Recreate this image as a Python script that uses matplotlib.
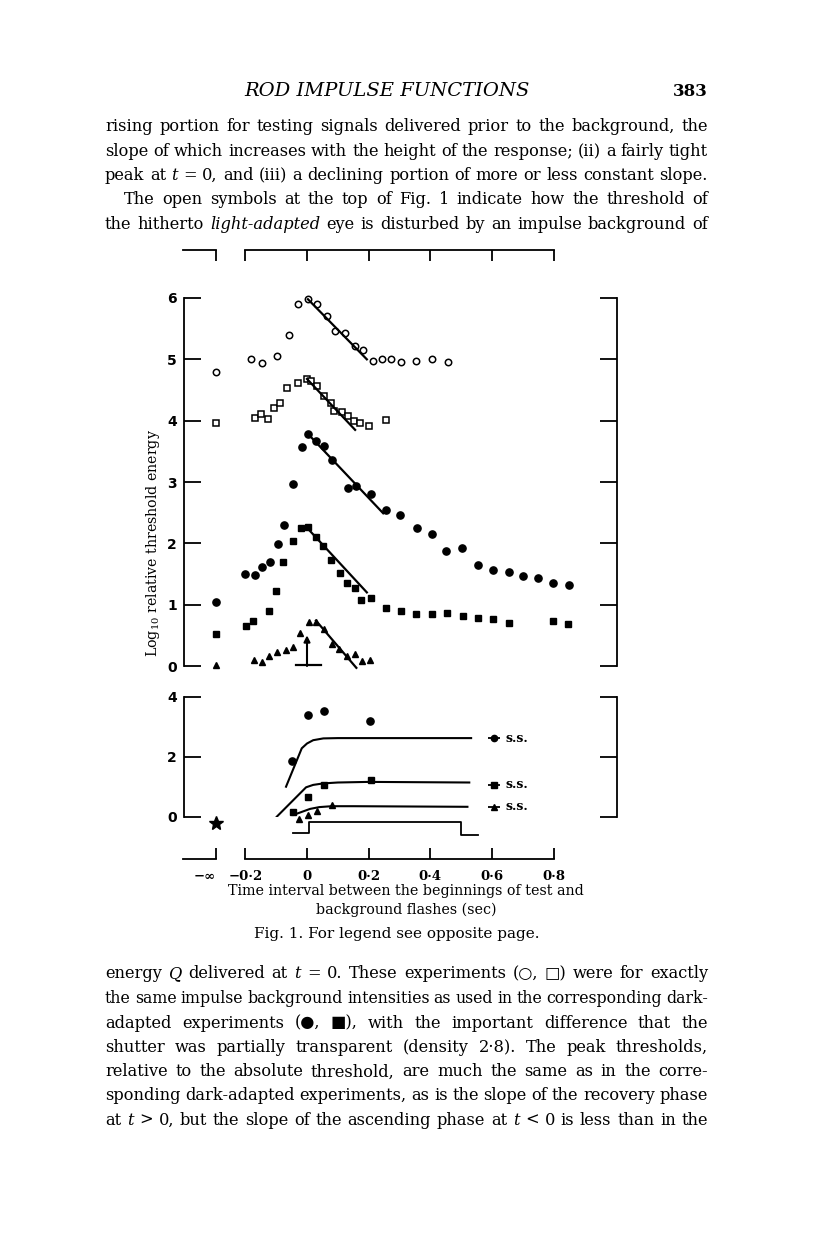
import matplotlib.pyplot as plt

W, H, DPI = 816, 1258, 100
SERIF = ['DejaVu Serif', 'DejaVu Sans']

# ---- data (t in sec, log10 relative threshold) ----
# upper panel
oc_t = [-0.182, -0.145, -0.098, -0.059, -0.029, 0.003, 0.031, 0.065, 0.092, 0.124,
        0.156, 0.183, 0.213, 0.242, 0.273, 0.304, 0.354, 0.406, 0.456]
oc_y = [5.01, 4.94, 5.06, 5.40, 5.91, 5.98, 5.90, 5.71, 5.47, 5.43,
        5.21, 5.16, 4.98, 5.01, 5.00, 4.95, 4.98, 5.01, 4.96]
oc_inf = 4.80
oc_fit_t = [0.003, 0.194]
oc_fit_y = [5.98, 5.00]

os_t = [-0.170, -0.150, -0.127, -0.108, -0.089, -0.066, -0.029, -0.001, 0.013, 0.032,
        0.054, 0.077, 0.089, 0.113, 0.132, 0.152, 0.172, 0.200, 0.255]
os_y = [4.04, 4.11, 4.03, 4.20, 4.28, 4.53, 4.61, 4.68, 4.64, 4.56,
        4.41, 4.28, 4.16, 4.14, 4.08, 4.00, 3.96, 3.92, 4.01]
os_inf = 3.96
os_fit_t = [0.0, 0.156]
os_fit_y = [4.68, 3.85]

fc_t = [-0.200, -0.170, -0.145, -0.121, -0.094, -0.073, -0.046, -0.017, 0.004, 0.029,
        0.055, 0.082, 0.132, 0.158, 0.206, 0.255, 0.303, 0.355, 0.406, 0.452,
        0.502, 0.553, 0.602, 0.655, 0.699, 0.748, 0.798, 0.849]
fc_y = [1.50, 1.49, 1.61, 1.70, 1.99, 2.30, 2.96, 3.57, 3.78, 3.67,
        3.59, 3.36, 2.91, 2.93, 2.80, 2.55, 2.47, 2.25, 2.15, 1.87,
        1.92, 1.65, 1.56, 1.53, 1.46, 1.43, 1.35, 1.32]
fc_inf = 1.04
fc_fit_t = [0.004, 0.247]
fc_fit_y = [3.78, 2.49]

fs_t = [-0.199, -0.175, -0.124, -0.099, -0.077, -0.045, -0.020, 0.004, 0.029, 0.053,
        0.078, 0.106, 0.131, 0.155, 0.176, 0.206, 0.255, 0.304, 0.353, 0.404,
        0.454, 0.505, 0.555, 0.602, 0.655, 0.798, 0.846]
fs_y = [0.65, 0.74, 0.89, 1.22, 1.70, 2.03, 2.25, 2.26, 2.10, 1.96,
        1.73, 1.51, 1.36, 1.27, 1.08, 1.11, 0.95, 0.89, 0.85, 0.85,
        0.86, 0.82, 0.79, 0.76, 0.70, 0.73, 0.68]
fs_inf = 0.52
fs_fit_t = [0.010, 0.194]
fs_fit_y = [2.20, 1.20]

tr_t = [-0.173, -0.147, -0.122, -0.096, -0.069, -0.046, -0.022, 0.005, 0.030, 0.054,
        0.080, 0.105, 0.129, 0.155, 0.179, 0.205]
tr_y = [0.10, 0.06, 0.16, 0.23, 0.26, 0.31, 0.53, 0.71, 0.72, 0.60,
        0.36, 0.28, 0.16, 0.20, 0.08, 0.09]
tr_inf = 0.02
tr_fit_t = [0.029, 0.160]
tr_fit_y = [0.74, -0.03]

# lower panel
lc_t = [-0.048, 0.004, 0.055, 0.204]
lc_y = [1.88, 3.40, 3.54, 3.20]
ls_t = [-0.044, 0.004, 0.055, 0.206]
ls_y = [0.18, 0.66, 1.07, 1.23]
lt_t = [-0.026, 0.002, 0.031, 0.080]
lt_y = [-0.07, 0.07, 0.20, 0.39]
star_y = -0.19

curve1_t = [-0.068, -0.017, 0.0, 0.02, 0.053, 0.1, 0.532]
curve1_y = [1.01, 2.29, 2.45, 2.56, 2.62, 2.63, 2.63]
curve2_t = [-0.098, -0.003, 0.02, 0.053, 0.1, 0.2, 0.526]
curve2_y = [0.01, 0.99, 1.07, 1.12, 1.15, 1.17, 1.15]
curve3_t = [-0.044, 0.010, 0.04, 0.08, 0.15, 0.52]
curve3_y = [0.07, 0.27, 0.33, 0.36, 0.36, 0.34]

step_t = [-0.046, 0.007, 0.007, 0.499, 0.499, 0.555]
step_y = [-0.54, -0.54, -0.16, -0.16, -0.60, -0.60]

ss_t = 0.607
ss_y = [2.62, 1.08, 0.34]
ss_marker = ['o', 's', '^']

xticks = [-0.2, 0, 0.2, 0.4, 0.6, 0.8]
xticklabels = ['\u22120\u00b72', '0', '0\u00b72', '0\u00b74', '0\u00b76', '0\u00b78']

top_lines = [
    "rising portion for testing signals delivered prior to the background, the",
    "slope of which increases with the height of the response; (ii) a fairly tight",
    "peak at *t* = 0, and (iii) a declining portion of more or less constant slope.",
    "The open symbols at the top of Fig. 1 indicate how the threshold of",
    "the hitherto *light-adapted* eye is disturbed by an impulse background of",
]
bottom_lines = [
    "energy *Q* delivered at *t* = 0. These experiments (\u25cb, \u25a1) were for exactly",
    "the same impulse background intensities as used in the corresponding dark-",
    "adapted experiments (\u25cf, \u25a0), with the important difference that the",
    "shutter was partially transparent (density 2\u00b78). The peak thresholds,",
    "relative to the absolute threshold, are much the same as in the corre-",
    "sponding dark-adapted experiments, as is the slope of the recovery phase",
    "at *t* > 0, but the slope of the ascending phase at *t* < 0 is less than in the",
]

plt.rcParams['mathtext.fontset'] = 'dejavuserif'

fig = plt.figure(figsize=(W / DPI, H / DPI), dpi=DPI)


def px_axes(x0, y0, x1, y1):
    a = fig.add_axes([x0 / W, 1 - y1 / H, (x1 - x0) / W, (y1 - y0) / H])
    a.set_facecolor('none')
    return a


# pixel position of t=0 and pixels per second
X0, X1, T0, TS = 184, 617, 307, 308.5
T_INF = -0.295
xlim = ((X0 - T0) / TS, (X1 - T0) / TS)
LW = 1.3

# ---- frame with the broken time axis (top and bottom) ----
fr = px_axes(X0, 250, X1, 859)
fr.set_xlim(xlim)
fr.set_ylim(0, 1)
fr.spines['left'].set_visible(False)
fr.spines['right'].set_visible(False)
for s in ['top', 'bottom']:
    fr.spines[s].set_bounds(-0.2, 0.8)
    fr.spines[s].set_linewidth(LW)
fr.set_yticks([])
fr.set_xticks(xticks)
fr.set_xticklabels(xticklabels, family='DejaVu Serif', fontweight='bold', fontsize=9.5)
fr.tick_params(axis='x', direction='in', length=8, width=LW, top=True, bottom=True, pad=8)

fi = px_axes(183, 250, 216, 859)
fi.set_xlim(0, 1)
fi.set_ylim(0, 1)
fi.spines['left'].set_visible(False)
fi.spines['right'].set_visible(False)
for s in ['top', 'bottom']:
    fi.spines[s].set_linewidth(LW)
fi.set_yticks([])
fi.set_xticks([1])
fi.set_xticklabels(['\u2212\u221e'], family='DejaVu Serif', fontweight='bold', fontsize=9.5, ha='right')
fi.tick_params(axis='x', direction='in', length=8, width=LW, top=True, bottom=True, pad=8)

# ---- upper panel ----
ax = px_axes(X0, 298, X1, 666)
ax.set_xlim(xlim)
ax.set_ylim(0, 6)
ax.spines['top'].set_visible(False)
ax.spines['bottom'].set_visible(False)
ax.spines['left'].set_linewidth(LW)
ax.spines['right'].set_linewidth(LW)
ax.set_xticks([])
ax.set_yticks(range(7))
ax.set_yticklabels([str(i) for i in range(7)], family='DejaVu Sans', fontweight='bold', fontsize=10)
ax.tick_params(axis='y', direction='in', length=12, width=LW, left=True, right=True, pad=5)

op = dict(ls='none', color='k', clip_on=False)
ax.plot(oc_t, oc_y, marker='o', ms=4.6, mfc='white', mew=1.1, **op)
ax.plot(T_INF, oc_inf, marker='o', ms=4.6, mfc='white', mew=1.1, **op)
ax.plot(os_t, os_y, marker='s', ms=4.0, mfc='white', mew=1.1, **op)
ax.plot(T_INF, os_inf, marker='s', ms=4.0, mfc='white', mew=1.1, **op)
ax.plot(fc_t, fc_y, marker='o', ms=5.2, **op)
ax.plot(T_INF, fc_inf, marker='o', ms=5.2, **op)
ax.plot(fs_t, fs_y, marker='s', ms=4.3, **op)
ax.plot(T_INF, fs_inf, marker='s', ms=4.3, **op)
ax.plot(tr_t, tr_y, marker='^', ms=4.5, **op)
ax.plot(T_INF, tr_inf, marker='^', ms=4.5, **op)

for ft, fy in [(oc_fit_t, oc_fit_y), (os_fit_t, os_fit_y), (fc_fit_t, fc_fit_y),
               (fs_fit_t, fs_fit_y), (tr_fit_t, tr_fit_y)]:
    ax.plot(ft, fy, color='k', lw=1.6, clip_on=False)

# impulse background marker
ax.annotate('', xy=(0, 0.50), xytext=(0, 0.0),
            arrowprops=dict(arrowstyle='-|>', color='k', lw=1.5, mutation_scale=9,
                            shrinkA=0, shrinkB=0))
ax.plot([-0.035, 0.045], [0.01, 0.01], color='k', lw=1.6, clip_on=False)

# ---- lower panel ----
bx = px_axes(X0, 697, X1, 817)
bx.set_xlim(xlim)
bx.set_ylim(0, 4)
bx.spines['top'].set_visible(False)
bx.spines['bottom'].set_visible(False)
bx.spines['left'].set_linewidth(LW)
bx.spines['right'].set_linewidth(LW)
bx.set_xticks([])
bx.set_yticks([0, 2, 4])
bx.set_yticklabels(['0', '2', '4'], family='DejaVu Sans', fontweight='bold', fontsize=10)
bx.tick_params(axis='y', direction='in', length=12, width=LW, left=True, right=True, pad=5)

bx.plot(curve1_t, curve1_y, color='k', lw=1.5)
bx.plot(curve2_t, curve2_y, color='k', lw=1.5)
bx.plot(curve3_t, curve3_y, color='k', lw=1.5)
bx.plot(step_t, step_y, color='k', lw=1.3, clip_on=False)
bx.plot(lc_t, lc_y, marker='o', ms=5.2, **op)
bx.plot(ls_t, ls_y, marker='s', ms=4.3, **op)
bx.plot(lt_t, lt_y, marker='^', ms=4.5, **op)
bx.plot(T_INF, star_y, marker='*', ms=10, **op)
for y, m in zip(ss_y, ss_marker):
    bx.errorbar(ss_t, y, xerr=0.02, fmt=m, color='k', ms=4.5 if m != '^' else 4,
                elinewidth=1.3, capsize=0, clip_on=False)
    bx.text(ss_t + 0.035, y, 's.s.', va='center', ha='left', family=SERIF,
            fontweight='bold', fontsize=9)

# ---- labels and caption ----
fig.text(153 / W, 1 - 543 / H, 'Log$_{\\mathrm{10}}$ relative threshold energy', rotation=90,
         ha='center', va='center', family=SERIF, fontsize=10.2)
fig.text(406 / W, 1 - 895 / H, 'Time interval between the beginnings of test and',
         ha='center', va='baseline', family=SERIF, fontsize=10.3)
fig.text(406 / W, 1 - 914 / H, 'background flashes (sec)',
         ha='center', va='baseline', family=SERIF, fontsize=10.3)
fig.text(397 / W, 1 - 938 / H, 'Fig. 1. For legend see opposite page.',
         ha='center', va='baseline', family=SERIF, fontsize=11)

# ---- page text ----
fig.text(387 / W, 1 - 96 / H, 'ROD IMPULSE FUNCTIONS', style='italic',
         ha='center', va='baseline', family=SERIF, fontsize=14)
fig.text(708 / W, 1 - 96 / H, '383', ha='right', va='baseline', family=SERIF,
         fontsize=12, fontweight='bold')

renderer = fig.canvas.get_renderer()


def put_line(line, ybase, x0=105, x1=708, size=11.7):
    toks = []
    for tok in line.split(' '):
        style = 'normal'
        if len(tok) > 2 and tok.startswith('*') and tok.endswith('*'):
            tok = tok[1:-1]
            style = 'italic'
        toks.append((tok, style))
    while True:
        arts = []
        for tok, style in toks:
            t = fig.text(0, 1 - ybase / H, tok, style=style, family=SERIF, fontsize=size,
                         va='baseline', ha='left')
            arts.append((t, t.get_window_extent(renderer).width))
        total = sum(w for _, w in arts)
        gap = (x1 - x0 - total) / max(len(arts) - 1, 1)
        if gap >= 4 or size < 9:
            break
        for t, _ in arts:
            t.remove()
        size -= 0.2
    x = x0
    for t, w in arts:
        t.set_x(x / W)
        x += w + gap


top_base = [131, 156, 180, 204.5, 229]
for i, (line, yb) in enumerate(zip(top_lines, top_base)):
    put_line(line, yb, x0=124 if i == 3 else 105)

bottom_base = [978.5, 1003, 1027.5, 1052, 1076.5, 1100.5, 1125]
for line, yb in zip(bottom_lines, bottom_base):
    put_line(line, yb)

fig.savefig('out.png', dpi=DPI, facecolor='white')
